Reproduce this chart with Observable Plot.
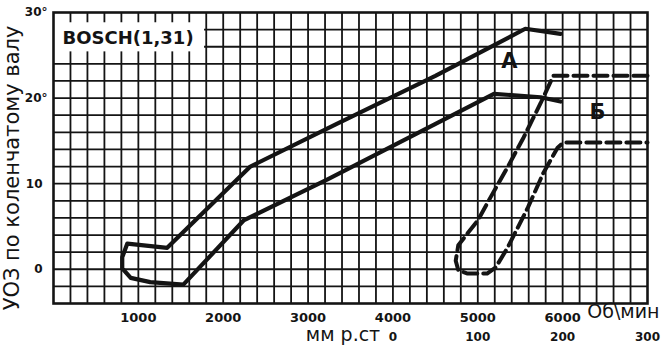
<!DOCTYPE html>
<html><head><meta charset="utf-8">
<script src="https://cdn.jsdelivr.net/npm/d3@7"></script>
<script src="https://cdn.jsdelivr.net/npm/@observablehq/plot@0.6"></script>
<style>body{margin:0;background:#fff}</style>
</head><body><div id="chart"></div>
<script>
// Tick labels
const xTicks = [1000, 2000, 3000, 4000, 5000, 6000];
const yTicksDeg = [20, 30];
const yTicksPlain = [0, 10];
const mmTicks = [0, 100, 200, 300];

// Curve А (centrifugal advance band): rpm vs degrees
const rpmA = [5975, 5560, 4500, 3320, 2320, 1340, 870, 810, 810, 910, 1140, 1530, 2240, 3230, 5190, 5740, 5975];
const degA = [27.5, 28.1, 22.6, 16.9, 12.0, 2.5, 3.0, 1.4, 0.1, -1.0, -1.5, -1.8, 5.7, 10.5, 20.5, 20.1, 19.6];

// Curve Б (vacuum advance band): mm Hg vs degrees
const mmB = [300, 189, 174, 154, 135, 115, 100, 88, 77, 74, 77, 88, 111, 121, 135, 159, 177, 194, 201, 300];
const degB = [22.6, 22.6, 19.4, 15.4, 11.9, 8.4, 5.7, 4.2, 2.8, 1.0, -0.1, -0.5, -0.5, 0.2, 2.5, 7.2, 11.2, 14.2, 14.8, 14.8];

// mm Hg axis shares the frame: 0 mm at 4000 rpm, 100 mm per 1000 rpm
const mmToX = mm => 4000 + mm * 10;

const A = rpmA.map((x, i) => ({x, y: degA[i]}));
const B = mmB.map((m, i) => ({x: mmToX(m), y: degB[i]}));

const ink = "#141414";
const plot = Plot.plot({
  width: 670, height: 356,
  marginLeft: 53, marginRight: 23, marginTop: 12, marginBottom: 53,
  style: {fontFamily: "DejaVu Sans", background: "white", color: ink},
  x: {domain: [0, 7000], label: null},
  y: {domain: [-4, 30], label: null},
  marks: [
    Plot.ruleX(d3.range(200, 7000, 200), {stroke: ink, strokeWidth: 1.8}),
    Plot.ruleY(d3.range(-2, 30, 2), {stroke: ink, strokeWidth: 1.8}),
    Plot.rect([0], {x1: 0, x2: 1780, y1: 25.4, y2: 28.8, fill: "white", inset: 0}),
    Plot.frame({stroke: ink, strokeWidth: 2.6}),
    Plot.line(A, {x: "x", y: "y", stroke: ink, strokeWidth: 4.2, strokeLinejoin: "round", strokeLinecap: "round"}),
    Plot.line(B, {x: "x", y: "y", stroke: ink, strokeWidth: 4, strokeDasharray: "14,6", strokeLinejoin: "round"}),
    Plot.axisX(xTicks, {tickSize: 0, tickPadding: 9, fontSize: 13, fontWeight: "bold", tickFormat: d => String(d), label: null}),
    Plot.axisY(yTicksDeg, {tickSize: 0, tickPadding: 6, fontSize: 12, fontWeight: "bold", tickFormat: d => d + "°", label: null}),
    Plot.axisY(yTicksPlain, {tickSize: 0, tickPadding: 11, fontSize: 12, fontWeight: "bold", tickFormat: d => String(d), label: null}),
    Plot.text(mmTicks, {x: d => mmToX(d), frameAnchor: "bottom", dy: 37, text: d => String(d), fontSize: 12, fontWeight: "bold"}),
    Plot.text(["мм р.ст"], {x: 3850, frameAnchor: "bottom", dy: 37, textAnchor: "end", fontSize: 19}),
    Plot.text(["Об\\мин"], {x: 6290, frameAnchor: "bottom", dy: 14, textAnchor: "start", fontSize: 19, ariaLabel: "unit"}),
    Plot.text(["BOSCH(1,31)"], {x: 106, y: 27.0, textAnchor: "start", fontSize: 18, fontWeight: "bold"}),
    Plot.text(["А"], {x: 5373, y: 24.3, fontSize: 21, fontWeight: "bold"}),
    Plot.text(["Б"], {x: 6410, y: 18.3, fontSize: 21, fontWeight: "bold"}),
    Plot.text(["УОЗ по коленчатому валу"], {frameAnchor: "left", textAnchor: "middle", dx: -41, dy: 10, rotate: -90, fontSize: 21, ariaLabel: "ytitle"})
  ]
});
d3.select(plot).selectAll('g[aria-label="ytitle"] text').style("letter-spacing", "0.8px");
d3.select(plot).selectAll('g[aria-label="unit"] text').style("letter-spacing", "0.6px");
document.getElementById("chart").appendChild(plot);
</script>
</body></html>
